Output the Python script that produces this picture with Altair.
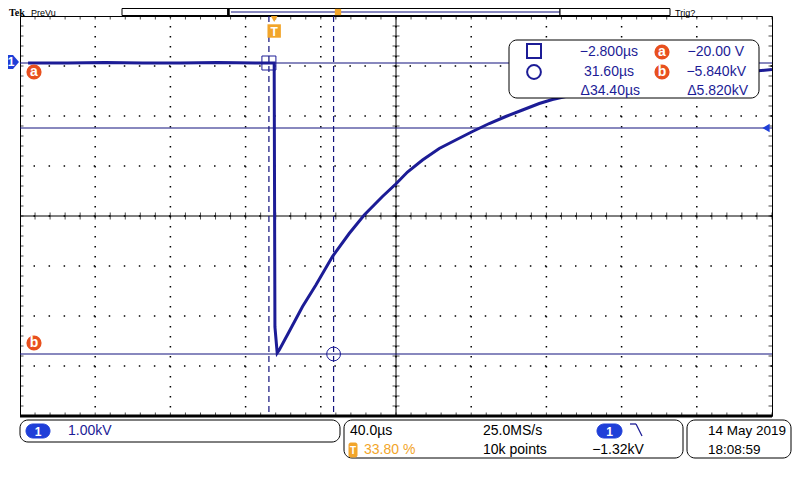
import altair as alt
import pandas as pd

wave_t = [-130.9, -110.0, -90.0, -70.0, -50.0, -30.0, -10.0, -2.8, 0.0, 0.4, 1.6,
          2.7, 8.0, 15.1, 22.2, 31.0, 39.9, 47.9, 57.6, 64.7, 70.9, 78.9, 87.8,
          96.6, 105.5, 114.4, 123.2, 132.1, 141.0, 148.0, 175.0, 200.0, 225.0,
          250.0, 264.8]
wave_v = [-0.02, -0.02, -0.01, -0.02, -0.02, -0.01, -0.02, -0.02, -0.02, -5.30, -5.82,
          -5.76, -5.39, -4.89, -4.46, -3.89, -3.43, -3.06, -2.69, -2.44, -2.20, -1.96, -1.73,
          -1.56, -1.39, -1.23, -1.09, -0.96, -0.83, -0.75, -0.52, -0.38, -0.28,
          -0.20, -0.15]

cursor_t = [-2.8, 31.6]          # µs
cursor_v = [-0.020, -5.840]      # kV
cursor_names = ["a", "b"]
trig_level = -1.32               # kV
trig_pos_pct = 33.80
t_per_div = 40.0                 # µs/div
v_per_div = 1.00                 # kV/div
n_div_x, n_div_y = 10, 8
v_top = 0.92                     # kV at top graticule edge

# ---------------- derived graticule ----------------
T_MIN = -trig_pos_pct / 100 * n_div_x * t_per_div
T_MAX = T_MIN + n_div_x * t_per_div
V_MAX = v_top
V_MIN = V_MAX - n_div_y * v_per_div
T_C = T_MIN + n_div_x / 2 * t_per_div
V_C = V_MIN + n_div_y / 2 * v_per_div
major_t = [T_MIN + i * t_per_div for i in range(n_div_x + 1)]
major_v = [V_MIN + i * v_per_div for i in range(n_div_y + 1)]
minor_t = [T_MIN + i * t_per_div / 5 for i in range(n_div_x * 5 + 1)]
minor_v = [V_MIN + i * v_per_div / 5 for i in range(n_div_y * 5 + 1)]

W, H = 752, 400
FONT = "Liberation Sans"
NAVY = "#1c1c96"
LINE = "#12127e"
ORANGE = "#e8501e"
AMBER = "#f2a52a"
BLUE = "#1f3fd8"

xs = alt.Scale(domain=[T_MIN, T_MAX], nice=False, zero=False)
ys = alt.Scale(domain=[V_MIN, V_MAX], nice=False, zero=False)


def X(f):
    return alt.X(f, type="quantitative", scale=xs, axis=None)


def Y(f):
    return alt.Y(f, type="quantitative", scale=ys, axis=None)


one = pd.DataFrame({"k": [0]})


def txt(s, x, y, color="#000", size=14, align="left", weight="normal", font=FONT, baseline="middle"):
    return alt.Chart(one).mark_text(text=s, align=align, baseline=baseline, fontSize=size, font=font,
                                    fontWeight=weight, color=color).encode(x=alt.value(x), y=alt.value(y))


def box(x, x2, y, y2, fill="white", stroke="#000", r=0, sw=1):
    return alt.Chart(one).mark_rect(fill=fill, stroke=stroke, strokeWidth=sw, cornerRadius=r).encode(
        x=alt.value(x), x2=alt.value(x2), y=alt.value(y), y2=alt.value(y2))


def seg(x, x2, y, y2, color="#000", sw=1):
    return alt.Chart(one).mark_rule(color=color, strokeWidth=sw).encode(
        x=alt.value(x), x2=alt.value(x2), y=alt.value(y), y2=alt.value(y2))


wave = pd.DataFrame({"t": wave_t, "v": wave_v})
curs = pd.DataFrame({"t": cursor_t, "v": cursor_v, "n": cursor_names})

# graticule (dotted division lines)
gx = alt.Chart(pd.DataFrame({"t": major_t[1:-1]})).mark_rule(color="#000", strokeWidth=1.5, strokeDash=[1.5, 8.5],
                                                             opacity=1).encode(x=X("t"))
gy = alt.Chart(pd.DataFrame({"v": major_v[1:-1]})).mark_rule(color="#000", strokeWidth=1.5, strokeDash=[1.5, 13.54],
                                                             opacity=1).encode(y=Y("v"))
center_v = alt.Chart(pd.DataFrame({"t": [T_C]})).mark_rule(color="#000", strokeWidth=1).encode(x=X("t"))
center_h = alt.Chart(pd.DataFrame({"v": [V_C]})).mark_rule(color="#000", strokeWidth=1).encode(y=Y("v"))

vt_df = pd.DataFrame({"t": minor_t * 3, "v": [V_C] * len(minor_t) + [V_MAX] * len(minor_t) + [V_MIN] * len(minor_t)})
ht_df = pd.DataFrame({"v": minor_v * 3, "t": [T_C] * len(minor_v) + [T_MIN] * len(minor_v) + [T_MAX] * len(minor_v)})
vticks = alt.Chart(vt_df).mark_tick(orient="vertical", size=7, thickness=1, color="#000", clip=True).encode(x=X("t"), y=Y("v"))
hticks = alt.Chart(ht_df).mark_tick(orient="horizontal", size=7, thickness=1, color="#000", clip=True).encode(x=X("t"), y=Y("v"))

bottom_edge = alt.Chart(pd.DataFrame({"v": [V_MIN]})).mark_rule(color="#000", strokeWidth=3).encode(y=Y("v"))

# cursors & trigger
vcur = alt.Chart(curs).mark_rule(color=LINE, strokeWidth=1.2, strokeDash=[6, 4]).encode(x=X("t"))
hcur = alt.Chart(curs).mark_rule(color=LINE, strokeWidth=1.2).encode(y=Y("v"))
trig = alt.Chart(pd.DataFrame({"v": [trig_level]})).mark_rule(color=LINE, strokeWidth=1.2).encode(y=Y("v"))
trig_arrow = alt.Chart(pd.DataFrame({"v": [trig_level]})).mark_point(
    shape="triangle-left", filled=True, size=70, color=BLUE, opacity=1).encode(x=alt.value(746), y=Y("v"))

trace = alt.Chart(wave).mark_line(color=NAVY, strokeWidth=3, clip=True).encode(x=X("t"), y=Y("v"))

sq = alt.Chart(curs.iloc[[0]]).mark_point(shape="square", filled=False, size=196, color=NAVY,
                                          strokeWidth=1, opacity=1).encode(x=X("t"), y=Y("v"))
ci = alt.Chart(curs.iloc[[1]]).mark_point(shape="circle", filled=False, size=190, color=NAVY,
                                          strokeWidth=1, opacity=1).encode(x=X("t"), y=Y("v"))

badge_df = pd.DataFrame({"v": cursor_v, "n": cursor_names})
badge_a = alt.Chart(badge_df.iloc[[0]]).mark_point(shape="circle", filled=True, size=230, color=ORANGE, opacity=1,
                                                   yOffset=9).encode(x=alt.value(14), y=Y("v"))
badge_b = alt.Chart(badge_df.iloc[[1]]).mark_point(shape="circle", filled=True, size=230, color=ORANGE, opacity=1,
                                                   yOffset=-11).encode(x=alt.value(14), y=Y("v"))
badge_at = alt.Chart(badge_df.iloc[[0]]).mark_text(color="white", fontWeight="bold", fontSize=14, font=FONT,
                                                   baseline="middle", dy=9).encode(x=alt.value(14), y=Y("v"), text="n:N")
badge_bt = alt.Chart(badge_df.iloc[[1]]).mark_text(color="white", fontWeight="bold", fontSize=14, font=FONT,
                                                   baseline="middle", dy=-11).encode(x=alt.value(14), y=Y("v"), text="n:N")

# trigger marker "T" at top of plot
tpos = pd.DataFrame({"t": [0.0]})
t_tri = alt.Chart(tpos).mark_point(shape="triangle-down", filled=True, size=45, color=AMBER, opacity=1).encode(
    x=X("t"), y=alt.value(3))
t_sq = alt.Chart(tpos).mark_point(shape="square", filled=True, size=180, color=AMBER, opacity=1).encode(
    x=X("t"), y=alt.value(15))
t_txt = alt.Chart(tpos).mark_text(text="T", color="white", fontWeight="bold", fontSize=12, font=FONT,
                                  baseline="middle").encode(x=X("t"), y=alt.value(15.5))

# channel 1 ground marker at left
ch_path = "M -1 -0.7 L 0.4 -0.7 L 1 0 L 0.4 0.7 L -1 0.7 Z"
ch_mark = alt.Chart(pd.DataFrame({"v": [0.0]})).mark_point(shape=ch_path, filled=True, size=400, color=BLUE,
                                                          opacity=1).encode(x=alt.value(-11), y=Y("v"))
ch_txt = alt.Chart(pd.DataFrame({"v": [0.0]})).mark_text(text="1", color="white", fontWeight="bold", fontSize=12,
                                                         font=FONT, baseline="middle").encode(x=alt.value(-9), y=Y("v"))

# readout box
fmt_t = [f"{cursor_t[0]:.3f}µs".replace("-", "−"), f"{cursor_t[1]:.2f}µs".replace("-", "−")]
fmt_v = ["−20.00 V" if abs(cursor_v[0]) < 1 else f"{cursor_v[0]:.3f}kV",
         f"{cursor_v[1]:.3f}kV".replace("-", "−")]
d_t = f"Δ{cursor_t[1] - cursor_t[0]:.2f}µs"
d_v = f"Δ{abs(cursor_v[1] - cursor_v[0]):.3f}kV"
readout = [
    box(489, 739, 24, 82, r=8),
    alt.Chart(one).mark_point(shape="square", filled=False, size=196, color=NAVY, opacity=1).encode(
        x=alt.value(514), y=alt.value(35)),
    alt.Chart(one).mark_point(shape="circle", filled=False, size=190, color=NAVY, opacity=1).encode(
        x=alt.value(514), y=alt.value(56)),
    txt(fmt_t[0], 618, 36, NAVY, align="right"),
    txt(fmt_t[1], 614, 56, NAVY, align="right"),
    txt(d_t, 620, 75, NAVY, align="right"),
    txt(fmt_v[0], 724, 36, NAVY, align="right"),
    txt(fmt_v[1], 726, 56, NAVY, align="right"),
    txt(d_v, 728, 75, NAVY, align="right"),
    alt.Chart(one).mark_point(shape="circle", filled=True, size=230, color=ORANGE, opacity=1).encode(
        x=alt.value(642), y=alt.value(36)),
    alt.Chart(one).mark_point(shape="circle", filled=True, size=230, color=ORANGE, opacity=1).encode(
        x=alt.value(642), y=alt.value(56)),
    txt("a", 642, 36, "white", weight="bold", align="center"),
    txt("b", 642, 56, "white", weight="bold", align="center"),
]

# header (squeezed into the 8 px above the graticule)
header = [
    txt("Tek", -11, -0.5, "#000", size=10, weight="bold", font="Liberation Serif", baseline="alphabetic"),
    txt("PreVu", 11, -0.5, "#000", size=9, baseline="alphabetic"),
    box(102, 208, -7.5, -0.5),
    box(208, 540, -7.5, -0.5),
    seg(208.5, 208.5, -7.5, -0.5, "#000", 2.5),
    seg(211, 540, -4, -4, LINE, 1),
    box(540, 650, -7.5, -0.5),
    alt.Chart(one).mark_point(shape="square", filled=True, size=40, color=AMBER, opacity=1).encode(
        x=alt.value(318), y=alt.value(-4)),
    txt("Trig?", 655, -0.5, "#000", size=9, baseline="alphabetic"),
]

# footer
footer = [
    box(0, 320, 404, 426, r=8),
    box(6, 30, 408, 422, fill=BLUE, stroke=BLUE, r=7),
    txt("1", 18, 415.5, "white", size=12, weight="bold", align="center"),
    txt(f"{v_per_div:.2f}kV", 48, 415, NAVY),
    box(324, 663, 404, 442, r=8),
    txt(f"{t_per_div:.1f}µs", 330, 415, "#000"),
    box(329, 337, 427, 441, fill=AMBER, stroke=AMBER, r=1.5),
    txt("T", 333, 434.5, "white", size=10, weight="bold", align="center"),
    txt(f"{trig_pos_pct:.2f} %", 344, 434, AMBER),
    txt("25.0MS/s", 463, 415, "#000"),
    txt("10k points", 463, 434, "#000"),
    box(577, 602, 408, 422, fill=BLUE, stroke=BLUE, r=7),
    txt("1", 589.5, 415.5, "white", size=12, weight="bold", align="center"),
    seg(610, 616, 408, 408, NAVY, 1.3),
    seg(616, 622, 408, 420, NAVY, 1.3),
    txt(f"{trig_level:.2f}kV".replace("-", "−"), 598, 434, "#000", align="center"),
    box(667, 771, 404, 442, r=8),
    txt("14 May 2019", 688, 415, "#000", size=13.5),
    txt("18:08:59", 688, 434, "#000", size=13.5),
]

layers = [gx, gy, center_v, center_h, vticks, hticks, vcur, hcur, trig, trig_arrow, trace, sq, ci,
          badge_a, badge_b, badge_at, badge_bt, t_tri, t_sq, t_txt, ch_mark, ch_txt, bottom_edge]
layers += readout + header + footer

chart = alt.layer(*layers).properties(
    width=W, height=H, background="white",
    padding={"left": 12, "top": 8, "right": 20, "bottom": 56},
    autosize=alt.AutoSizeParams(type="none"),
).configure_view(stroke="#000", strokeWidth=1)

chart.save("out.html", embed_options={"renderer": "svg", "actions": False})
